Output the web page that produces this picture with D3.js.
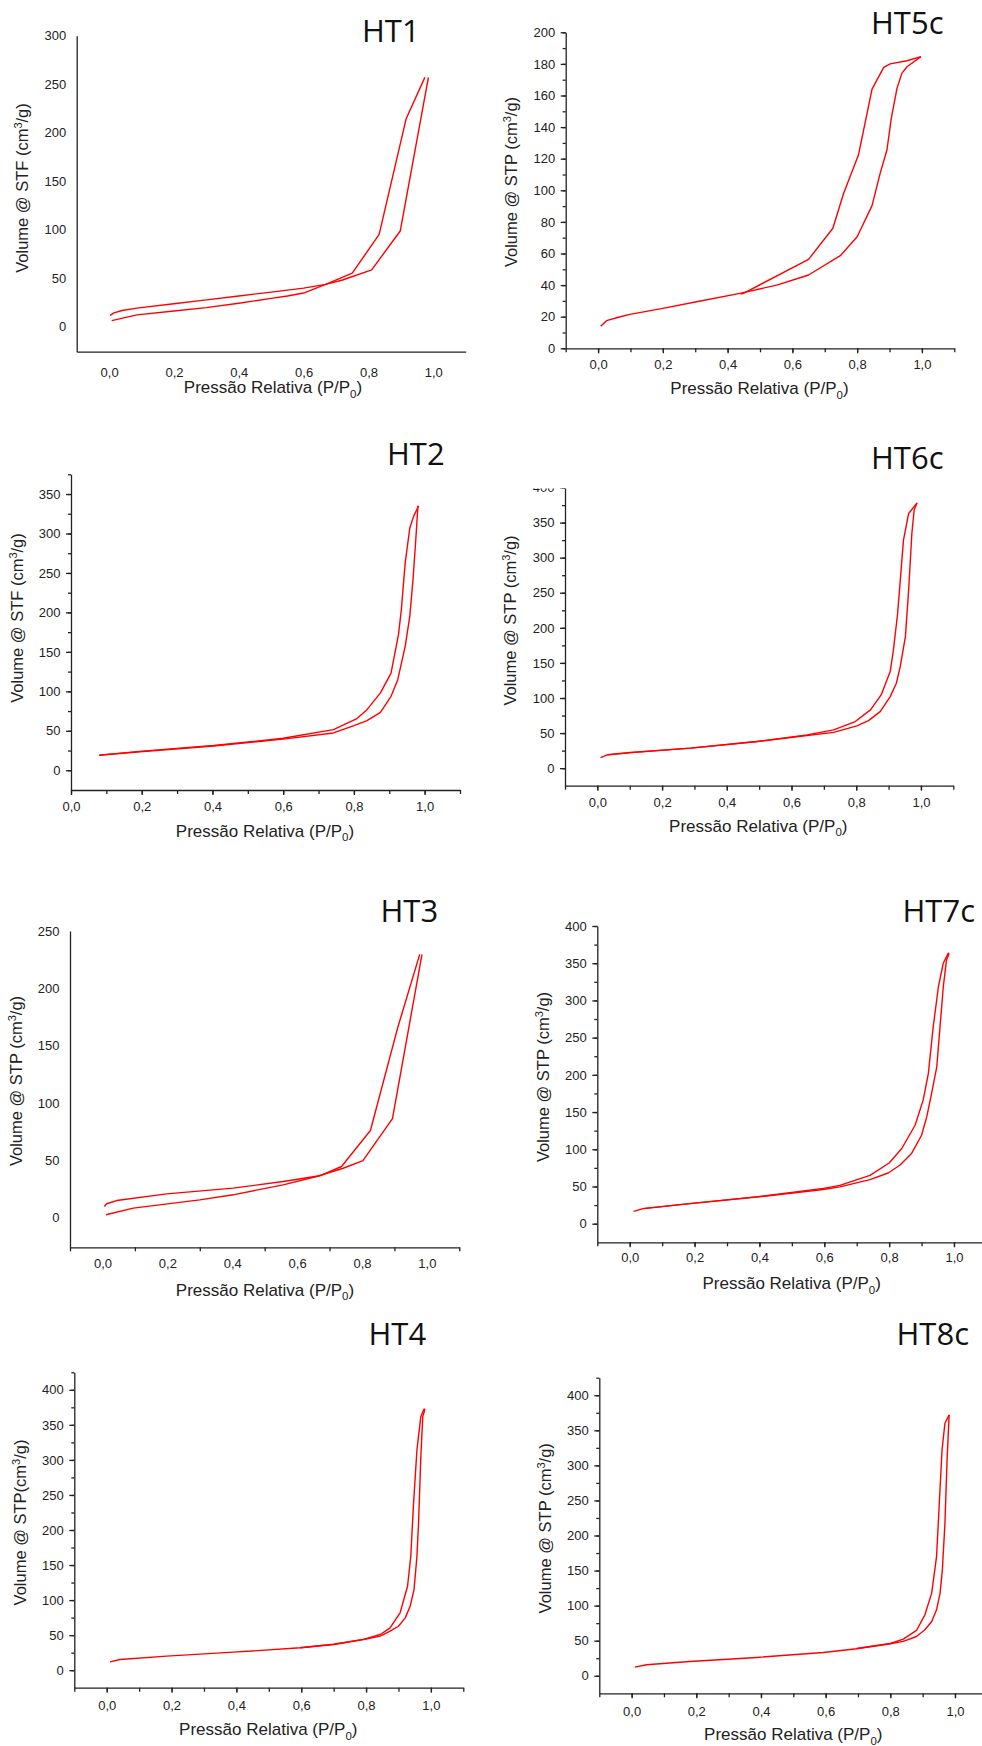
<!DOCTYPE html>
<html>
<head>
<meta charset="utf-8">
<script src="https://cdn.jsdelivr.net/npm/d3@7"></script>
<style>
  body { margin: 0; background: #fff; }
  svg { display: block; }
  .tick text { font-family: "Liberation Sans", Arial, sans-serif; font-size: 13px; fill: #222; }
  .domain, .tick line { stroke: #222; stroke-width: 1.3; }
  .axis-title { font-family: "Liberation Sans", Arial, sans-serif; fill: #222; }
  .panel-title { font-family: "Open Sans", sans-serif; font-size: 31px; fill: #111; }
</style>
</head>
<body>
<script>
// Size of the whole figure
var width = 982;
var height = 1746;

// Isotherm data: [P/P0, volume]
// HT1
var ht1Ads = [[0.008,6],[0.086,12],[0.2,16],[0.3,19.5],[0.4,24],[0.5,29],[0.55,31.5],[0.6,34.5],[0.668,43.5],[0.72,48],[0.81,58.5],[0.898,98.5],[0.985,257]];
var ht1Des = [[0.974,257],[0.916,214],[0.833,95],[0.75,55],[0.668,43.5],[0.6,39.6],[0.5,35.5],[0.4,31.5],[0.3,27.5],[0.2,23.5],[0.086,19],[0.04,16.5],[0.015,14],[0.003,11.5]];
// HT5c
var ht5Ads = [[0.008,14],[0.026,17.5],[0.06,19.5],[0.098,21.5],[0.2,25.3],[0.304,29.5],[0.438,34.8],[0.552,40],[0.65,46.4],[0.748,58.6],[0.8,70.6],[0.846,90.3],[0.871,110.7],[0.892,125.5],[0.905,145],[0.923,164.5],[0.938,174],[0.954,178.2],[0.997,184.6]];
var ht5Des = [[0.997,184.6],[0.954,182],[0.902,180],[0.882,177.8],[0.846,164],[0.804,122.3],[0.758,98],[0.725,76],[0.65,56.3],[0.449,34.8],[0.44,34.3]];
// HT2
var ht2Ads = [[0.08,19],[0.195,23.5],[0.403,30.8],[0.6,39.5],[0.742,47.3],[0.8,56.6],[0.837,63],[0.875,73.4],[0.905,93.7],[0.924,114.8],[0.945,157],[0.958,195],[0.967,241],[0.975,292],[0.981,335]];
var ht2Des = [[0.983,335],[0.969,322],[0.958,307],[0.945,262.5],[0.934,203],[0.926,171.8],[0.905,123],[0.875,98],[0.837,76.8],[0.807,65],[0.742,51.5],[0.6,40.5],[0.403,31.3],[0.195,24],[0.08,19.2]];
// HT6c
var ht6Ads = [[0.01,15.1],[0.031,19],[0.103,22.2],[0.288,28.5],[0.494,37.9],[0.648,46.5],[0.73,51],[0.802,60.3],[0.838,67.8],[0.874,80.6],[0.905,102],[0.924,121],[0.936,144.7],[0.952,187.5],[0.962,254],[0.972,334.8],[0.979,368],[0.988,378]];
var ht6Des = [[0.988,378],[0.962,363],[0.946,325],[0.928,220.8],[0.915,168.5],[0.905,137.6],[0.877,104.4],[0.844,83],[0.797,66.4],[0.73,54.5],[0.648,47.4],[0.494,38],[0.288,28.6],[0.103,22.3],[0.031,19.1]];
// HT3
var ht3Ads = [[0.011,2.4],[0.095,8.2],[0.3,15.4],[0.403,19.8],[0.557,28.5],[0.66,35.8],[0.742,43],[0.803,49.7],[0.894,86.3],[0.985,229.6]];
var ht3Des = [[0.978,229.6],[0.911,166.5],[0.826,75.9],[0.737,44.5],[0.67,36.4],[0.557,31.4],[0.403,25.6],[0.198,20.6],[0.044,14.8],[0.013,12],[0.006,9.6]];
// HT7c
var ht7Ads = [[0.012,16.6],[0.041,20.2],[0.185,26.9],[0.391,35.8],[0.597,46],[0.648,49.5],[0.741,59.2],[0.797,68.1],[0.833,78.5],[0.869,94.2],[0.9,118.8],[0.916,143.5],[0.931,175],[0.947,210.8],[0.957,264.6],[0.967,318],[0.977,354.4],[0.985,363]];
var ht7Des = [[0.985,363],[0.982,363.4],[0.967,350],[0.952,318.4],[0.936,264.6],[0.921,201.9],[0.905,166],[0.88,132.3],[0.839,101],[0.8,81.6],[0.741,65],[0.648,51.5],[0.597,47.5],[0.391,36],[0.185,27],[0.041,20.3]];
// HT4
var ht4Ads = [[0.01,11.9],[0.041,15.2],[0.185,20],[0.391,25.7],[0.597,31.9],[0.7,36.6],[0.792,43.7],[0.844,48.5],[0.874,55.6],[0.9,62.7],[0.921,74.6],[0.936,91.2],[0.948,115],[0.957,162.5],[0.962,210],[0.969,305],[0.975,362],[0.982,372.5]];
var ht4Des = [[0.982,372.5],[0.979,372.5],[0.969,362],[0.957,314.5],[0.946,233.7],[0.938,162.5],[0.928,119.7],[0.905,81.8],[0.874,60.4],[0.844,50.9],[0.792,44],[0.7,37],[0.597,32]];
// HT8c
var ht8Ads = [[0.01,12.4],[0.046,15.7],[0.18,20.4],[0.387,26.1],[0.593,33.2],[0.696,38.5],[0.8,45.6],[0.84,49],[0.881,56],[0.907,65.6],[0.928,77.4],[0.943,94],[0.954,117.8],[0.961,151],[0.969,217.6],[0.976,312.5],[0.982,372]];
var ht8Des = [[0.982,372],[0.969,360],[0.96,322],[0.951,241],[0.943,170],[0.928,117.8],[0.907,86.9],[0.881,64.6],[0.84,52.3],[0.8,46],[0.696,38.8]];

// Tick labels
var xTickLabels = [0, 0.2, 0.4, 0.6, 0.8, 1.0];
var xMinorTicks = [-0.1, 0, 0.1, 0.2, 0.3, 0.4, 0.5, 0.6, 0.7, 0.8, 0.9, 1.0, 1.1];
var xOddTicks = [-0.1, 0.1, 0.3, 0.5, 0.7, 0.9, 1.1];
var yTicks300 = [0, 50, 100, 150, 200, 250, 300];
var yTicks250 = [0, 50, 100, 150, 200, 250];
var yTicks200 = [0, 20, 40, 60, 80, 100, 120, 140, 160, 180, 200];
var yMinor200 = [0, 10, 20, 30, 40, 50, 60, 70, 80, 90, 100, 110, 120, 130, 140, 150, 160, 170, 180, 190, 200];
var yTicks350 = [0, 50, 100, 150, 200, 250, 300, 350];
var yTicks400 = [0, 50, 100, 150, 200, 250, 300, 350, 400];
var yMinor375 = [0, 25, 50, 75, 100, 125, 150, 175, 200, 225, 250, 275, 300, 325, 350, 375];
var yMinor425 = yMinor375.concat([400, 425]);

var fmt = d3.formatLocale({decimal: ",", thousands: ".", grouping: [3], currency: ["", ""]}).format(".1f");

// Panel layout: box = [left, right, top, bottom] of the axes in pixels
var panels = [
  {title: "HT1", ads: ht1Ads, des: ht1Des, excel: true, xDomain: [-0.1, 1.1], yDomain: [-26, 300],
   box: [76.7, 465.7, 35.7, 351.7], yTicks: yTicks300, xLabelOff: 16, yLab: "Volume @ STF (cm", yLabPos: [22, 188],
   xLabPos: [273, 393], titlePos: [362, 42]},
  {title: "HT5c", ads: ht5Ads, des: ht5Des, xDomain: [-0.1, 1.1], yDomain: [0, 200],
   box: [565.7, 954.3, 32.3, 348.3], yTicks: yTicks200, yMinor: yMinor200, xMinor: xMinorTicks, xLabelOff: 11.5,
   yLab: "Volume @ STP (cm", yLabPos: [511, 182], xLabPos: [759.5, 394], titlePos: [871, 33.5]},
  {title: "HT2", ads: ht2Ads, des: ht2Des, xDomain: [0, 1.1], yDomain: [-25, 375],
   box: [71, 460, 474.3, 790], yTicks: yTicks350, yMinor: yMinor375, xMinor: xMinorTicks.slice(1), xLabelOff: 12,
   yLab: "Volume @ STF (cm", yLabPos: [17, 618], xLabPos: [265, 836.5], titlePos: [387, 465]},
  {title: "HT6c", ads: ht6Ads, des: ht6Des, xDomain: [-0.1, 1.1], yDomain: [-25, 400], clipTop: 488.5,
   box: [565, 953.3, 487.5, 785.7], yTicks: yTicks400, yMinor: yMinor375.concat([400]), xMinor: xMinorTicks, xLabelOff: 12.5,
   yLab: "Volume @ STP (cm", yLabPos: [510.5, 620.5], xLabPos: [758.3, 831.5], titlePos: [871, 469.3]},
  {title: "HT3", ads: ht3Ads, des: ht3Des, excel: true, xDomain: [-0.1, 1.1], yDomain: [-26, 250],
   box: [70, 459.3, 931, 1247.3], yTicks: yTicks250, xOdd: xOddTicks, xLabelOff: 11.5,
   yLab: "Volume @ STP (cm", yLabPos: [16, 1081], xLabPos: [265, 1295.5], titlePos: [380.5, 921.7]},
  {title: "HT7c", ads: ht7Ads, des: ht7Des, xDomain: [-0.1, 1.1], yDomain: [-25, 400],
   box: [597.3, 986.4, 926, 1242.3], yTicks: yTicks400, yMinor: yMinor375.concat([400]), xMinor: xMinorTicks, xLabelOff: 10,
   yLab: "Volume @ STP (cm", yLabPos: [543.5, 1077], xLabPos: [791.7, 1289], titlePos: [902.5, 921.7]},
  {title: "HT4", ads: ht4Ads, des: ht4Des, xDomain: [-0.1, 1.1], yDomain: [-25, 425],
   box: [74.3, 463.3, 1372.3, 1687.7], yTicks: yTicks400, yMinor: yMinor425, xMinor: xMinorTicks, xLabelOff: 13,
   yLab: "Volume @ STP(cm", yLabPos: [20, 1522.5], xLabPos: [268.3, 1735], titlePos: [368.5, 1345]},
  {title: "HT8c", ads: ht8Ads, des: ht8Des, xDomain: [-0.1, 1.1], yDomain: [-25, 425],
   box: [599.3, 987.3, 1377.7, 1693.3], yTicks: yTicks400, yMinor: yMinor425, xMinor: xMinorTicks, xLabelOff: 13,
   yLab: "Volume @ STP (cm", yLabPos: [545, 1528.3], xLabPos: [793.3, 1740], titlePos: [896.5, 1345]}
];

var svg = d3.select("body")
            .append("svg")
            .attr("width", width)
            .attr("height", height);

var defs = svg.append("defs");

panels.forEach(function(p, i) {
    var left = p.box[0], right = p.box[1], top = p.box[2], bottom = p.box[3];

    var x = d3.scaleLinear().domain(p.xDomain).range([left, right]);
    var y = d3.scaleLinear().domain(p.yDomain).range([bottom, top]);

    var g = svg.append("g");

    // HT6c picture is cut at the top, so clip the axes there
    var plot = g.append("g");
    if (p.clipTop) {
        defs.append("clipPath").attr("id", "clip" + i)
            .append("rect")
            .attr("x", left - 80).attr("y", p.clipTop)
            .attr("width", right - left + 100).attr("height", height);
        plot.attr("clip-path", "url(#clip" + i + ")");
    }

    var majorSize = p.excel ? 0 : 5;

    // minor ticks first (no labels)
    if (p.yMinor) {
        plot.append("g")
            .attr("transform", "translate(" + left + ",0)")
            .call(d3.axisLeft(y).tickValues(p.yMinor).tickSize(3).tickFormat(""))
            .select(".domain").remove();
    }
    if (p.xMinor) {
        plot.append("g")
            .attr("transform", "translate(0," + bottom + ")")
            .call(d3.axisBottom(x).tickValues(p.xMinor).tickSize(4).tickFormat(""))
            .select(".domain").remove();
    }
    if (p.xOdd) {
        plot.append("g")
            .attr("transform", "translate(0," + bottom + ")")
            .call(d3.axisBottom(x).tickValues(p.xOdd).tickSize(4).tickFormat(""))
            .select(".domain").remove();
    }

    // main axes
    plot.append("g")
        .attr("transform", "translate(" + left + ",0)")
        .call(d3.axisLeft(y).tickValues(p.yTicks).tickSize(majorSize).tickSizeOuter(0)
              .tickPadding(p.excel ? 10.5 : 5.5).tickFormat(d3.format("d")));

    plot.append("g")
        .attr("transform", "translate(0," + bottom + ")")
        .call(d3.axisBottom(x).tickValues(xTickLabels).tickSize(p.excel ? 0 : 5).tickSizeOuter(0)
              .tickPadding(p.excel ? p.xLabelOff : p.xLabelOff - 5).tickFormat(fmt));

    // isotherm branches
    var line = d3.line()
                 .x(function(d) { return x(d[0]); })
                 .y(function(d) { return y(d[1]); });

    [p.ads, p.des].forEach(function(branch) {
        g.append("path")
            .datum(branch)
            .attr("d", line)
            .attr("fill", "none")
            .attr("stroke", "#ff0000")
            .attr("stroke-width", 1.4)
            .attr("stroke-linejoin", "round");
    });

    // y axis title with superscript
    var yt = g.append("text")
        .attr("class", "axis-title")
        .attr("font-size", "16.5px")
        .attr("text-anchor", "middle")
        .attr("transform", "translate(" + p.yLabPos[0] + "," + p.yLabPos[1] + ") rotate(-90)")
        .attr("dy", "0.35em");
    yt.append("tspan").text(p.yLab);
    yt.append("tspan").text("3").attr("font-size", "11px").attr("dy", -6);
    yt.append("tspan").text("/g)").attr("dy", 6);

    // x axis title with subscript
    var xt = g.append("text")
        .attr("class", "axis-title")
        .attr("font-size", "17px")
        .attr("text-anchor", "middle")
        .attr("x", p.xLabPos[0])
        .attr("y", p.xLabPos[1]);
    xt.append("tspan").text("Pressão Relativa (P/P");
    xt.append("tspan").text("0").attr("font-size", "11.5px").attr("dy", 4.5);
    xt.append("tspan").text(")").attr("dy", -4.5);

    // panel title
    g.append("text")
        .attr("class", "panel-title")
        .attr("x", p.titlePos[0])
        .attr("y", p.titlePos[1])
        .text(p.title);
});
</script>
</body>
</html>
